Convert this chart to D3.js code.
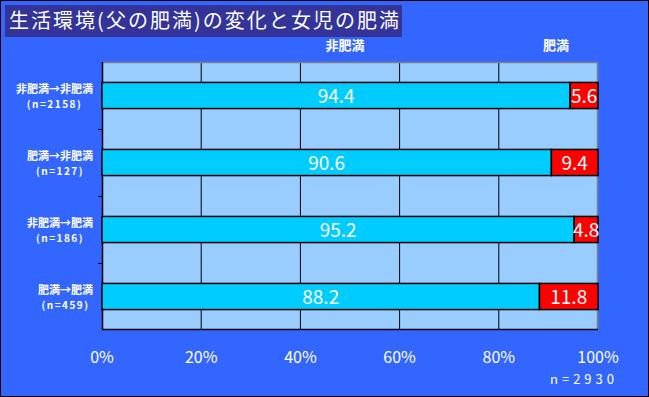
<!DOCTYPE html>
<html>
<head>
<meta charset="utf-8">
<script src="https://cdn.jsdelivr.net/npm/d3@7"></script>
<style>
  html, body { margin: 0; padding: 0; background: #3366ff; }
  svg { display: block; }
</style>
</head>
<body>
<div id="chart"></div>
<script>
// data
const categories = ['非肥満→非肥満', '肥満→非肥満', '非肥満→肥満', '肥満→肥満'];
const counts = ['(n=2158)', '(n=127)', '(n=186)', '(n=459)'];
const seriesNames = ['非肥満', '肥満'];
const nonObese = [94.4, 90.6, 95.2, 88.2];
const obese = [5.6, 9.4, 4.8, 11.8];
const xTicks = [0, 20, 40, 60, 80, 100];
const titleText = '生活環境(父の肥満)の変化と女児の肥満';
const totalText = 'n=2930';

const W = 649;
const H = 397;
const margin = { top: 62, right: 51, bottom: 67, left: 102 };
const width = W - margin.left - margin.right;
const height = H - margin.top - margin.bottom;
const jp = '"Noto Sans CJK JP", "Noto Sans", sans-serif';

const svg = d3.select('#chart')
  .append('svg')
  .attr('width', W)
  .attr('height', H);

svg.append('rect')
  .attr('x', 0.5).attr('y', 0.5)
  .attr('width', W - 1).attr('height', H - 1)
  .attr('fill', '#3366ff')
  .attr('stroke', '#000');

// title box
svg.append('rect')
  .attr('x', 5).attr('y', 5)
  .attr('width', 397).attr('height', 32)
  .attr('fill', '#333399');

svg.append('text')
  .attr('x', 9).attr('y', 28)
  .attr('fill', '#fff')
  .attr('textLength', 390)
  .attr('lengthAdjust', 'spacing')
  .style('font-family', jp)
  .style('font-size', '20px')
  .text(titleText);

const xScale = d3.scaleLinear().domain([0, 100]).range([0, width]);
const yScale = d3.scaleBand()
  .domain(categories)
  .range([0, height])
  .paddingInner(0.61)
  .paddingOuter(0.305);

const chart = svg.append('g')
  .attr('transform', `translate(${margin.left}, ${margin.top})`);

chart.append('rect')
  .attr('width', width).attr('height', height)
  .attr('fill', '#99ccff');

// vertical gridlines
chart.append('g')
  .selectAll('line')
  .data(xTicks.slice(1, -1))
  .join('line')
  .attr('x1', (d) => xScale(d)).attr('x2', (d) => xScale(d))
  .attr('y1', 0).attr('y2', height)
  .attr('stroke', '#000');

// plot border: grey top/right, black left/bottom
chart.append('path')
  .attr('d', `M0,0.5H${width - 0.5}V${height}`)
  .attr('fill', 'none').attr('stroke', '#808080').attr('stroke-width', 1.5);
chart.append('path')
  .attr('d', `M0.5,0V${height - 0.5}H${width}`)
  .attr('fill', 'none').attr('stroke', '#000').attr('stroke-width', 1.5);

// category ticks between bands on the left axis
const step = yScale.step();
const gap = yScale.paddingInner() * step / 2;
chart.append('g')
  .selectAll('line')
  .data(categories.slice(1))
  .join('line')
  .attr('x1', -4).attr('x2', 0)
  .attr('y1', (d) => Math.round(yScale(d) - gap) + 0.5)
  .attr('y2', (d) => Math.round(yScale(d) - gap) + 0.5)
  .attr('stroke', '#000');

const rows = categories.map((c, i) => ({ cat: c, n: counts[i], a: nonObese[i], b: obese[i] }));

const bars = chart.append('g')
  .selectAll('g')
  .data(rows)
  .join('g')
  .attr('transform', (d) => `translate(0, ${yScale(d.cat)})`);

bars.append('rect')
  .attr('x', xScale(0))
  .attr('width', (d) => xScale(d.a) - xScale(0))
  .attr('height', yScale.bandwidth())
  .attr('fill', '#00ccff')
  .attr('stroke', '#000').attr('stroke-width', 1.5);

bars.append('rect')
  .attr('x', (d) => xScale(d.a))
  .attr('width', (d) => xScale(d.a + d.b) - xScale(d.a))
  .attr('height', yScale.bandwidth())
  .attr('fill', '#ff0000')
  .attr('stroke', '#000').attr('stroke-width', 1.5);

bars.append('text')
  .attr('x', (d) => xScale(d.a / 2))
  .attr('y', yScale.bandwidth() / 2 + 7)
  .attr('text-anchor', 'middle')
  .attr('fill', '#fff')
  .style('font-family', jp)
  .style('font-size', '19px')
  .text((d) => d.a.toFixed(1));

bars.append('text')
  .attr('x', (d) => xScale(d.a + d.b / 2))
  .attr('y', yScale.bandwidth() / 2 + 7)
  .attr('text-anchor', 'middle')
  .attr('fill', '#fff')
  .style('font-family', jp)
  .style('font-size', '19px')
  .text((d) => d.b.toFixed(1));

// category labels: block right-aligned, lines centred within it
const labels = chart.append('g')
  .selectAll('g')
  .data(rows)
  .join('g')
  .attr('transform', (d) => `translate(-9, ${yScale(d.cat) + yScale.bandwidth() / 2})`)
  .attr('fill', '#fff')
  .attr('text-anchor', 'middle')
  .style('font-family', jp)
  .style('font-weight', 'bold');

labels.append('text')
  .attr('class', 'cat')
  .attr('y', -3)
  .style('font-size', '11px')
  .text((d) => d.cat);

labels.append('text')
  .attr('class', 'num')
  .attr('y', 12)
  .style('font-size', '10px')
  .style('letter-spacing', '1.5px')
  .text((d) => d.n);

labels.each(function () {
  const g = d3.select(this);
  const w = Math.max(g.select('.cat').node().getComputedTextLength(),
    g.select('.num').node().getComputedTextLength());
  g.selectAll('text').attr('x', -w / 2);
});

// x axis labels
chart.append('g')
  .selectAll('text')
  .data(xTicks)
  .join('text')
  .attr('x', (d) => xScale(d))
  .attr('y', height + 33)
  .attr('text-anchor', 'middle')
  .attr('fill', '#fff')
  .style('font-family', jp)
  .style('font-size', '16px')
  .text((d) => d + '%');

svg.append('text')
  .attr('x', 618).attr('y', 384)
  .attr('text-anchor', 'end')
  .attr('fill', '#fff')
  .style('font-family', jp)
  .style('font-size', '13px')
  .style('letter-spacing', '4px')
  .text(totalText);

// series labels above the plot
svg.append('g')
  .selectAll('text')
  .data(seriesNames)
  .join('text')
  .attr('x', (d, i) => (i === 0 ? 345 : 556))
  .attr('y', 50)
  .attr('text-anchor', 'middle')
  .attr('fill', '#fff')
  .style('font-family', jp)
  .style('font-size', '13px')
  .style('font-weight', 'bold')
  .text((d) => d);
</script>
</body>
</html>
